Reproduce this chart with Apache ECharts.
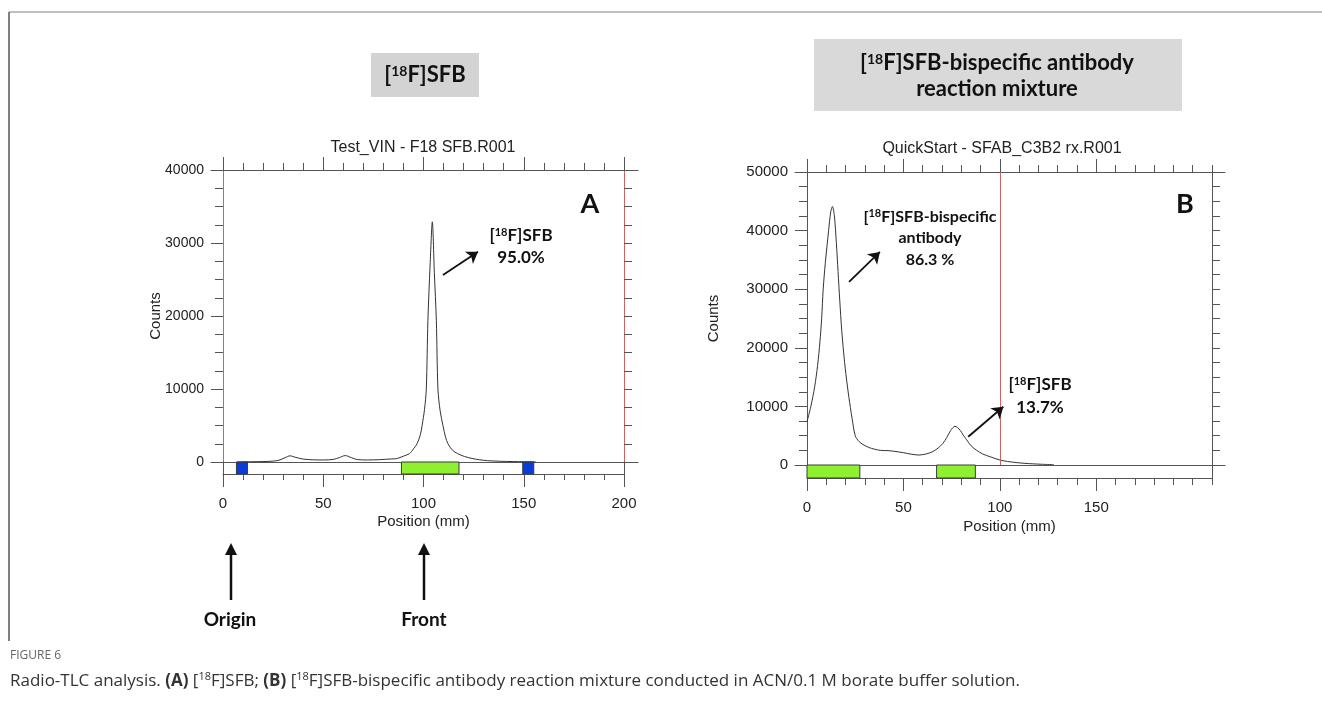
<!DOCTYPE html>
<html>
<head>
<meta charset="utf-8">
<script src="https://cdn.jsdelivr.net/npm/echarts@6/dist/echarts.min.js"></script>
<style>
  html, body { margin: 0; padding: 0; background: #fff; }
  #chart { width: 1322px; height: 713px; }
</style>
</head>
<body>
<div id="chart"></div>
<script>
// panel A: [18F]SFB scan
const posA = [7, 10, 15, 20, 25, 28, 31, 33.5, 36, 40, 45, 50, 55, 58, 61, 64, 67, 72, 78, 84,
  86.5, 90, 93, 95, 96.8, 98.5, 99.3, 100.5, 101.4, 102.2, 103.3, 104.4, 105.4, 106.4, 107.2, 108.3,
  109.7, 111, 112.2, 114.5, 117, 120.5, 124.7, 128, 132, 138, 145, 150, 156];
const countsA = [0, 20, 40, 60, 120, 250, 600, 850, 650, 400, 300, 280, 350, 600, 880, 600, 330, 280, 320, 420,
  460, 800, 1150, 1800, 2500, 3800, 5000, 7200, 10000, 19400, 27000, 32900, 26000, 19400, 10000, 7000,
  5000, 3400, 2500, 1600, 1150, 750, 460, 300, 180, 100, 60, 40, 20];

// panel B: reaction mixture scan
const posB = [0, 2, 4, 5.5, 6.7, 7.6, 8.4, 9.5, 11.2, 12.3, 13.2, 14.2, 15.2, 16.1, 17, 18, 19.5, 21, 22.5, 23.5,
  25, 27, 29, 32, 35, 38, 42, 45, 50, 54, 58, 62, 65.3, 68, 70.5, 72.5, 74.5, 76.7, 78, 79.5,
  81, 82.8, 85, 88, 91, 95, 100, 104, 109, 113, 117, 122, 128];
const countsB = [7400, 10000, 13400, 17000, 21000, 25000, 30000, 34500, 40000, 43200, 44100, 42500, 38000, 33000, 28000, 23000, 17500, 13300, 9800, 7700,
  5000, 4000, 3500, 3000, 2700, 2500, 2450, 2350, 2100, 1850, 1700, 1900, 2300, 2900, 3700, 4700, 5900, 6600, 6400, 5900,
  5100, 4300, 3300, 2500, 1900, 1400, 850, 600, 400, 280, 200, 120, 50];

// regions on the strip (kind 0 = marker, 1 = integration region)
const bandStartA = [6.7, 89, 149.5];
const bandEndA = [12.2, 117.7, 155];
const bandKindA = [0, 1, 0];
const bandStartB = [0, 67.2];
const bandEndB = [27.4, 87.3];
const bandKindB = [1, 1];

const majorTicksA = [0, 50, 100, 150, 200];
const majorTicksB = [0, 50, 100, 150];
const frontB = [100];

// arrows: [x1, y1, x2, y2] in data units
const arrowA = [109.7, 25600, 127.2, 28800];
const arrowB1 = [21.8, 31250, 37.8, 36360];
const arrowB2 = [83.6, 4820, 101.8, 9940];

const AX = '#555';
const RED = '#c86464';
const TXT = '#222';
const axFont = 'Liberation Sans, Arial, sans-serif';
const boldFont = 'Lato, Carlito, sans-serif';

const zip = (xs, ys) => xs.map((x, i) => [x, ys[i]]);
const bands = (s, e, k) => s.map((v, i) => [v, e[i], k[i]]);
const bandColors = ['#0a3cdc', '#8ff030'];

function bandRender(params, api) {
  const p0 = api.coord([api.value(0), 1]);
  const p1 = api.coord([api.value(1), 0]);
  return {
    type: 'rect',
    shape: { x: p0[0], y: p0[1], width: p1[0] - p0[0], height: p1[1] - p0[1] },
    style: { fill: bandColors[api.value(2)], stroke: '#3a3a3a', lineWidth: 1 }
  };
}

const line = { color: AX, width: 1 };
const off = { show: false };
const plain = v => String(v);

function frameX(grid, pos) {
  return { gridIndex: grid, type: 'value', position: pos, min: 0, max: 1,
    axisLine: { show: true, onZero: false, lineStyle: line }, axisTick: off, axisLabel: off, splitLine: off };
}
function minorX(grid, pos, max, len, showLine) {
  return { gridIndex: grid, type: 'value', position: pos, min: 0, max: max, interval: 10,
    axisLine: { show: showLine, onZero: false, lineStyle: line }, axisTick: { show: true, length: len, lineStyle: line },
    axisLabel: off, splitLine: off };
}
function majorX(grid, pos, max, ticks, labels, gap) {
  const ax = { gridIndex: grid, type: 'value', position: pos, min: 0, max: max,
    axisLine: { show: false, onZero: false }, axisTick: { show: true, length: 13, customValues: ticks, lineStyle: line },
    axisLabel: off, splitLine: off };
  if (labels) {
    ax.axisLabel = { show: true, customValues: ticks, margin: 22, fontSize: 15, color: TXT, fontFamily: axFont, formatter: plain };
    ax.name = 'Position (mm)';
    ax.nameLocation = 'middle';
    ax.nameGap = gap;
    ax.nameTextStyle = { fontSize: 15, color: TXT, fontFamily: axFont };
  }
  return ax;
}
function hiddenY(grid) {
  return { gridIndex: grid, type: 'value', show: false, min: 0, max: 1, axisLine: { onZero: false } };
}
function countsY(grid, max, lineColor, nameGap, fontSize) {
  return { gridIndex: grid, type: 'value', position: 'left', min: 0, max: max, interval: 10000,
    axisLine: { show: true, onZero: false, lineStyle: { color: lineColor, width: 1 } },
    axisTick: { show: true, length: 12, lineStyle: line },
    minorTick: { show: true, splitNumber: 4, length: 8, lineStyle: line },
    axisLabel: { margin: 19, fontSize: fontSize, color: TXT, fontFamily: axFont, formatter: plain },
    splitLine: off,
    name: 'Counts', nameLocation: 'middle', nameGap: nameGap, nameMoveOverlap: false,
    nameTextStyle: { fontSize: 15, color: TXT, fontFamily: axFont } };
}
function rightY(grid, max, lineColor) {
  return { gridIndex: grid, type: 'value', position: 'right', min: 0, max: max, interval: 2500,
    axisLine: { show: true, onZero: false, lineStyle: { color: lineColor, width: 1 } },
    axisTick: { show: true, length: 8, lineStyle: line },
    axisLabel: off, splitLine: off };
}
function stripY(grid, pos) {
  return { gridIndex: grid, type: 'value', position: pos, min: 0, max: 1,
    axisLine: { show: true, onZero: false, lineStyle: line }, axisTick: off, axisLabel: off, splitLine: off };
}
function arrowLine(a) {
  return [{ coord: [a[0], a[1]], symbol: 'none' }, { coord: [a[2], a[3]], symbol: 'arrow' }];
}

function boldText(x, y, text, size, supSize) {
  const style = { text: text, x: 0, y: 0, fill: '#111', font: 'bold ' + size + 'px ' + boldFont,
    textAlign: 'center', textVerticalAlign: 'middle' };
  if (supSize) {
    style.rich = { sup: { fontSize: supSize, padding: [0, 0, Math.round(supSize * 0.6), 0],
      fontWeight: 'bold', fontFamily: 'Lato', fill: '#111' } };
  }
  return { type: 'text', x: x, y: y, style: style, z: 10 };
}
function plainText(x, y, text, size) {
  return { type: 'text', x: x, y: y, z: 10,
    style: { text: text, fill: TXT, font: size + 'px ' + axFont, textAlign: 'center', textVerticalAlign: 'middle' } };
}
function upArrow(x, yTop, yBottom) {
  return [
    { type: 'line', shape: { x1: x, y1: yBottom, x2: x, y2: yTop + 10 }, style: { stroke: '#111', lineWidth: 2.5 } },
    { type: 'polygon', shape: { points: [[x - 6, yTop + 12], [x + 6, yTop + 12], [x, yTop]] }, style: { fill: '#111' } }
  ];
}

const option = {
  animation: false,
  backgroundColor: '#fff',
  grid: [
    { left: 211, top: 170, width: 427, height: 292 },
    { left: 223, top: 170, width: 401, height: 292 },
    { left: 223, top: 462, width: 401, height: 12 },
    { left: 795, top: 172, width: 430, height: 293 },
    { left: 807, top: 172, width: 405, height: 293 },
    { left: 807, top: 465, width: 405, height: 13 }
  ],
  xAxis: [
    frameX(0, 'top'), frameX(0, 'bottom'),
    minorX(1, 'top', 200, 7, false), majorX(1, 'top', 200, majorTicksA, false),
    minorX(2, 'bottom', 200, 6, true), majorX(2, 'bottom', 200, majorTicksA, true, 40),
    frameX(3, 'top'), frameX(3, 'bottom'),
    minorX(4, 'top', 210, 7, false), majorX(4, 'top', 210, majorTicksB, false),
    minorX(5, 'bottom', 210, 7, true), majorX(5, 'bottom', 210, majorTicksB, true, 41)
  ],
  yAxis: [
    hiddenY(0),
    countsY(1, 40000, RED, 60, 14), rightY(1, 40000, RED),
    stripY(2, 'left'), stripY(2, 'right'),
    hiddenY(3),
    countsY(4, 50000, AX, 86, 15), rightY(4, 50000, AX),
    stripY(5, 'left'), stripY(5, 'right')
  ],
  series: [
    {
      type: 'line', xAxisIndex: 2, yAxisIndex: 1, data: zip(posA, countsA),
      showSymbol: false, smooth: 0.3, lineStyle: { color: '#333', width: 1 }, z: 3,
      markLine: { silent: true, symbol: 'none', symbolSize: 11, label: off,
        lineStyle: { color: '#111', width: 1.8, type: 'solid' },
        data: [arrowLine(arrowA)] }
    },
    {
      type: 'custom', xAxisIndex: 4, yAxisIndex: 3, renderItem: bandRender,
      data: bands(bandStartA, bandEndA, bandKindA), z: 2
    },
    {
      type: 'line', xAxisIndex: 8, yAxisIndex: 6, data: zip(posB, countsB),
      showSymbol: false, smooth: 0.3, lineStyle: { color: '#333', width: 1 }, z: 3,
      markLine: { silent: true, symbol: 'none', symbolSize: 11, label: off,
        lineStyle: { color: '#111', width: 1.8, type: 'solid' },
        data: [
          { xAxis: frontB[0], lineStyle: { color: RED, width: 1 } },
          arrowLine(arrowB1), arrowLine(arrowB2)
        ] }
    },
    {
      type: 'custom', xAxisIndex: 10, yAxisIndex: 8, renderItem: bandRender,
      data: bands(bandStartB, bandEndB, bandKindB), z: 2
    }
  ],
  graphic: [
    // figure frame
    { type: 'line', shape: { x1: 9, y1: 12, x2: 1322, y2: 12 }, style: { stroke: '#aaa', lineWidth: 1.5 } },
    { type: 'line', shape: { x1: 9, y1: 12, x2: 9, y2: 641 }, style: { stroke: '#555', lineWidth: 1.5 } },
    // header boxes
    { type: 'rect', shape: { x: 371, y: 53, width: 108, height: 44 }, style: { fill: '#d3d3d3' } },
    boldText(425, 75, '[{sup|18}F]SFB', 22, 14),
    { type: 'rect', shape: { x: 814, y: 39, width: 368, height: 72 }, style: { fill: '#d9d9d9' } },
    boldText(997, 63, '[{sup|18}F]SFB-bispecific antibody', 22, 14),
    boldText(997, 89, 'reaction mixture', 22),
    // scan titles
    plainText(423, 148, 'Test_VIN - F18 SFB.R001', 16),
    plainText(1002, 149, 'QuickStart - SFAB_C3B2 rx.R001', 16),
    // panel letters
    boldText(590, 204, 'A', 27),
    boldText(1185, 204, 'B', 27),
    // peak labels
    boldText(521, 236, '[{sup|18}F]SFB', 17, 11),
    boldText(521, 258, '95.0%', 17),
    boldText(930, 217, '[{sup|18}F]SFB-bispecific', 16, 11),
    boldText(930, 238, 'antibody', 16),
    boldText(930, 260, '86.3 %', 16),
    boldText(1040, 385, '[{sup|18}F]SFB', 17, 11),
    boldText(1040, 408, '13.7%', 17),
    // origin / front
    ...upArrow(231, 543, 600),
    ...upArrow(424, 543, 600),
    boldText(230, 620, 'Origin', 19),
    boldText(424, 620, 'Front', 19),
    // caption
    { type: 'text', x: 10, y: 656, style: { text: 'FIGURE 6', fill: '#666', font: '12px "Open Sans", sans-serif',
      textVerticalAlign: 'middle' } },
    { type: 'text', x: 10, y: 681, style: {
      text: 'Radio-TLC analysis. {b|(A)} [{s|18}F]SFB; {b|(B)} [{s|18}F]SFB-bispecific antibody reaction mixture conducted in ACN/0.1 M borate buffer solution.',
      fill: '#333', font: '17px "Open Sans", sans-serif', textVerticalAlign: 'middle',
      rich: { b: { fontWeight: 'bold', fontSize: 17, fontFamily: 'Open Sans', fill: '#333' },
              s: { fontSize: 11, padding: [0, 0, 8, 0], fontFamily: 'Open Sans', fill: '#333' } } } }
  ]
};

const chart = echarts.init(document.getElementById('chart'), null, { renderer: 'canvas' });
chart.setOption(option);
</script>
</body>
</html>
